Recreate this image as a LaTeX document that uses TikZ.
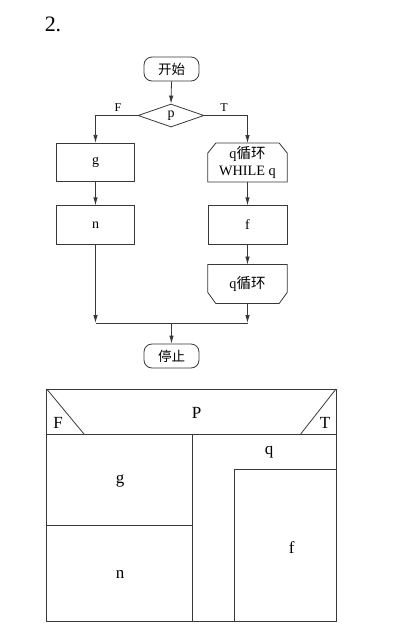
\documentclass[tikz,border=0pt]{standalone}
\usepackage{fontspec}
\setmainfont{Liberation Serif}
\newfontfamily\cjk{Noto Sans CJK SC}
\usetikzlibrary{shapes.geometric,arrows.meta}
\definecolor{ln}{HTML}{383838}
\tikzset{
  arr/.style={draw=ln,line width=0.8pt,-{Latex[length=8pt,width=4.5pt]}},
  ln/.style={draw=ln,line width=0.8pt},
  term/.style={draw=ln,line width=0.8pt,rounded corners=8pt,minimum width=55pt,minimum height=24pt,inner sep=0pt,font=\fontsize{13.5}{15}\selectfont\cjk},
  proc/.style={draw=ln,line width=0.8pt,minimum width=78pt,minimum height=38.5pt,inner sep=0pt,font=\fontsize{14}{16}\selectfont},
  loopbox/.style={minimum width=79pt,minimum height=38.5pt,inner sep=0pt,align=center,font=\fontsize{14.3}{17}\selectfont},
  lbl/.style={inner sep=0pt,font=\fontsize{12}{14}\selectfont},
  big/.style={inner sep=0pt,font=\fontsize{17}{19}\selectfont}
}
\newcommand{\xh}[1]{{\fontsize{14.5}{17}\selectfont\cjk #1}}
\begin{document}
\begin{tikzpicture}[x=1pt,y=-1pt]
\useasboundingbox (0,0) rectangle (406,635);
\node[inner sep=0pt,font=\fontsize{22}{24}\selectfont] (title) at (53,24) {2.};
% flowchart
\node[term] (start) at (171.5,69) {开始};
\node[diamond,draw=ln,line width=0.8pt,minimum width=66pt,minimum height=23pt,inner sep=0pt,font=\fontsize{14}{16}\selectfont] (dia) at (171,115.5) {p};
\node[lbl] (Fl) at (118,108) {F};
\node[lbl] (Tl) at (224,108) {T};
\node[proc] (g) at (95.5,162.5) {g};
\node[proc] (n) at (95.5,225) {n};
\node[loopbox] (la) at (247.5,162.5) {q\xh{循环}\\WHILE q};
\draw[ln] ([xshift=8pt]la.north west) -- ([xshift=-8pt]la.north east) -- ([yshift=-10pt]la.north east) -- (la.south east) -- (la.south west) -- ([yshift=-10pt]la.north west) -- cycle;
\node[proc,minimum width=79pt] (f) at (247.5,225) {f};
\node[loopbox] (lb) at (247.5,284) {q\xh{循环}};
\draw[ln] (lb.north west) -- (lb.north east) -- ([yshift=11pt]lb.south east) -- ([xshift=-8pt]lb.south east) -- ([xshift=8pt]lb.south west) -- ([yshift=11pt]lb.south west) -- cycle;
\node[term] (stop) at (171.5,356) {停止};
\coordinate (mL) at (95.5,323);
\coordinate (mR) at (247.5,323);
\coordinate (mM) at (171.5,323);
\draw[arr] (start.south) -- (dia.north);
\draw[arr] (dia.west) -| (g.north);
\draw[arr] (dia.east) -| (la.north);
\draw[arr] (g.south) -- (n.north);
\draw[arr] (la.south) -- (f.north);
\draw[arr] (f.south) -- (lb.north);
\draw[arr] (n.south) -- (mL);
\draw[arr] (lb.south) -- (mR);
\draw[ln] (mL) -- (mR);
\draw[arr] (mM) -- (stop.north);
% N-S diagram
\draw[ln] (46.7,389) rectangle (336,621);
\draw[ln] (46.7,434) -- (336,434);
\draw[ln] (46.7,389) -- (84,434);
\draw[ln] (336,389) -- (300.7,434);
\draw[ln] (192.7,434) -- (192.7,621);
\draw[ln] (46.7,525) -- (192.7,525);
\draw[ln] (234,621) -- (234,469) -- (336,469);
\node[big] (P) at (196.7,413) {P};
\node[big] (F2) at (58,423) {F};
\node[big] (T2) at (325,423) {T};
\node[big] (g2) at (120,481) {g};
\node[big] (n2) at (120,574) {n};
\node[big] (q2) at (269,452) {q};
\node[big] (f2) at (291.7,548) {f};
\end{tikzpicture}
\end{document}
